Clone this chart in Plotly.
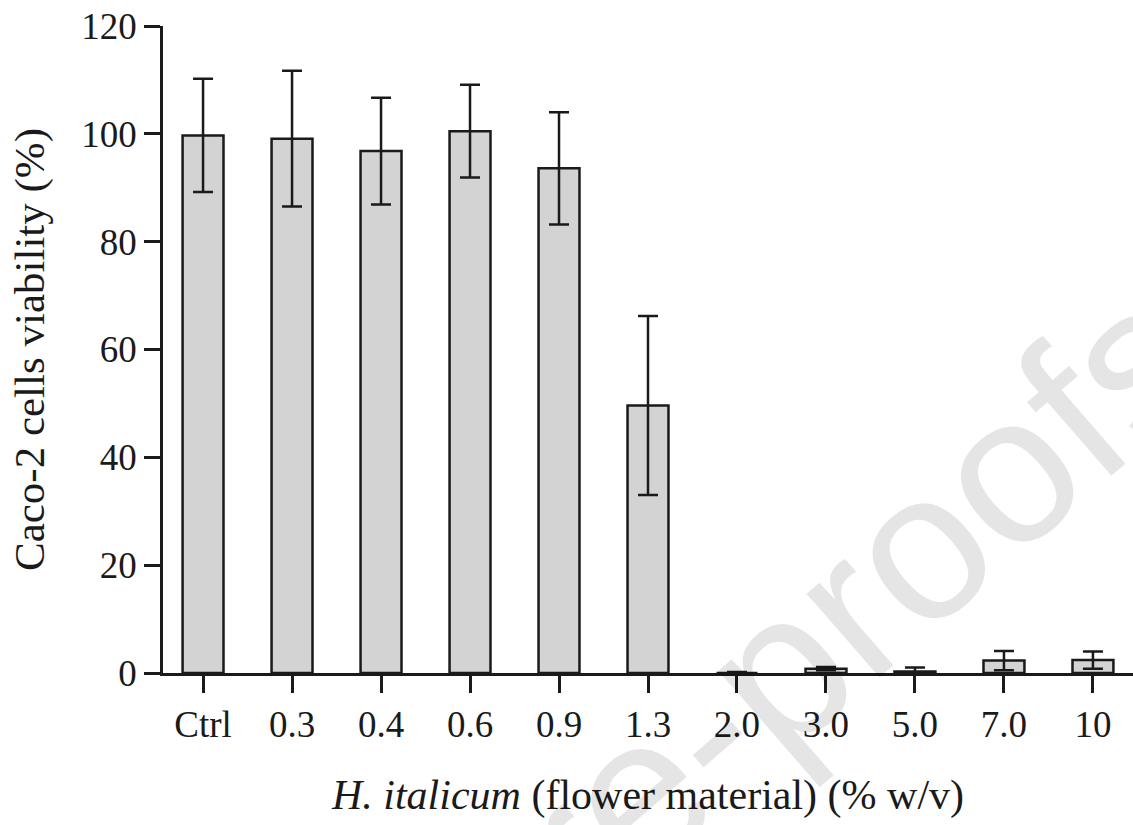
import plotly.graph_objects as go

categories = ["Ctrl", "0.3", "0.4", "0.6", "0.9", "1.3", "2.0", "3.0", "5.0", "7.0", "10"]
viability = [99.7, 99.1, 96.8, 100.5, 93.6, 49.6, 0.0, 0.8, 0.3, 2.3, 2.4]
error_sd = [10.5, 12.6, 9.9, 8.6, 10.4, 16.6, 0.2, 0.3, 0.7, 1.8, 1.6]
y_ticks = [0, 20, 40, 60, 80, 100, 120]

serif = "Liberation Serif, Times New Roman, serif"

fig = go.Figure()
fig.add_trace(go.Bar(
    x=categories,
    y=viability,
    marker=dict(color="#d3d3d3", line=dict(color="#1a1a1a", width=2.5)),
    error_y=dict(type="data", array=error_sd, visible=True,
                 color="#1a1a1a", thickness=2.5, width=10),
    showlegend=False,
))

fig.update_layout(
    width=1133, height=825,
    margin=dict(l=163, r=0, t=26, b=152),
    paper_bgcolor="white", plot_bgcolor="white",
    bargap=0.54,
    font=dict(family=serif, color="#1a1a1a"),
    annotations=[dict(
        text="Journal Pre-proofs", xref="paper", yref="paper",
        x=0.37, y=-0.34, xanchor="center", yanchor="middle",
        textangle=-41, showarrow=False,
        font=dict(family="Liberation Sans, Arial, sans-serif", size=210,
                  color="rgba(0,0,0,0.1)"),
    )],
)

fig.update_xaxes(
    type="category", range=[-0.45, 10.45],
    showline=True, linecolor="#1a1a1a", linewidth=2.5,
    ticks="outside", ticklen=17, tickwidth=2.5, tickcolor="#1a1a1a",
    tickfont=dict(size=37, family=serif, color="#1a1a1a"),
    showgrid=False, zeroline=False,
    title=dict(text="<i>H. italicum</i> (flower material) (% w/v)",
               font=dict(size=42, family=serif, color="#1a1a1a"), standoff=36),
    automargin=False,
)
fig.update_yaxes(
    range=[0, 120], tickvals=y_ticks,
    showline=True, linecolor="#1a1a1a", linewidth=2.5,
    ticks="outside", ticklen=16, tickwidth=2.5, tickcolor="#1a1a1a",
    tickfont=dict(size=37, family=serif, color="#1a1a1a"),
    showgrid=False, zeroline=False, ticklabeloverflow="allow",
    title=dict(text="Caco-2 cells viability (%)",
               font=dict(size=43, family=serif, color="#1a1a1a"), standoff=24),
    automargin=False,
)

fig.write_html(
    "out.html",
    config={"displayModeBar": False},
    post_script="document.body.style.margin='0';document.body.style.overflow='hidden';",
)
